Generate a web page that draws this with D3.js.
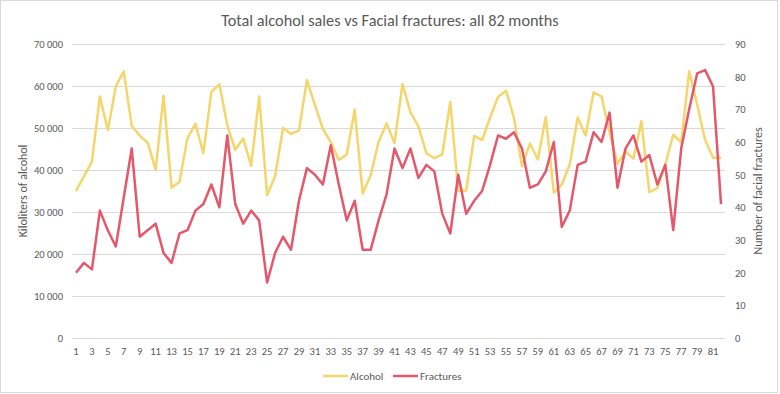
<!DOCTYPE html>
<html>
<head>
<meta charset="utf-8">
<script src="https://cdn.jsdelivr.net/npm/d3@7"></script>
<style>
  body { margin: 0; background: #fff; }
  svg text { font-family: Calibri, Carlito, Lato, sans-serif; fill: #595959; }
</style>
</head>
<body>
<div id="chart"></div>
<script>
// month index 1..82
var months = d3.range(1, 83);

// kiloliters of alcohol sold
var alcohol = [
  35000, 38500, 42000, 57500, 49500, 59900, 63500, 50500, 48200, 46500,
  40100, 57700, 35800, 37200, 47600, 51000, 44000, 58600, 60400, 50700,
  44800, 47500, 41000, 57500, 34000, 38500, 50000, 48600, 49400, 61400,
  55500, 49800, 46600, 42400, 43700, 54400, 34400, 38700, 46700, 51100,
  46400, 60500, 53700, 50400, 44000, 42800, 43700, 56200, 35000, 35100,
  48100, 47100, 52500, 57400, 58900, 52400, 40900, 46300, 42500, 52600,
  34600, 36500, 41300, 52500, 48200, 58500, 57500, 49000, 41500, 44400,
  42700, 51600, 34700, 35700, 41300, 48400, 46600, 63500, 55600, 47200,
  42900, 42900
];

// number of facial fractures per month
var fractures = [
  20, 23, 21, 39, 33, 28, 43, 58, 31, 33,
  35, 26, 23, 32, 33, 39, 41, 47, 40, 62,
  41, 35, 39, 36, 17, 26, 31, 27, 42, 52,
  50, 47, 59, 47, 36, 42, 27, 27, 36, 44,
  58, 52, 58, 49, 53, 51, 38, 32, 50, 38,
  42, 45, 53, 62, 61, 63, 58, 46, 47, 51,
  60, 34, 39, 53, 54, 63, 60, 69, 46, 58,
  62, 54, 56, 47, 53, 33, 58, 70, 81, 82,
  77, 41
];

var leftTicks = [0, 10000, 20000, 30000, 40000, 50000, 60000, 70000];
var rightTicks = [0, 10, 20, 30, 40, 50, 60, 70, 80, 90];
var xTickLabels = months.filter(function(d) { return d % 2 == 1; });

var W = 780, H = 394;
var margin = {top: 44, right: 55, bottom: 56, left: 72};
var width = W - margin.left - margin.right;
var height = H - margin.top - margin.bottom;

var svg = d3.select("#chart").append("svg")
    .attr("width", W)
    .attr("height", H);

// chart area border
svg.append("rect")
    .attr("x", 0.5).attr("y", 0.5)
    .attr("width", W - 3).attr("height", H - 2)
    .attr("fill", "#fff")
    .attr("stroke", "#d9d9d9");

var g = svg.append("g")
    .attr("transform", "translate(" + margin.left + "," + margin.top + ")");

var x = d3.scaleBand()
    .domain(months)
    .range([0, width]);

var yL = d3.scaleLinear()
    .domain([0, 70000])
    .range([height, 0]);

var yR = d3.scaleLinear()
    .domain([0, 90])
    .range([height, 0]);

var fmt = d3.formatLocale({decimal: ".", thousands: " ", grouping: [3], currency: ["", ""]}).format(",");

// gridlines
g.append("g")
    .selectAll("line")
    .data(leftTicks)
    .enter().append("line")
    .attr("x1", 0)
    .attr("x2", width)
    .attr("y1", function(d) { return Math.round(yL(d)) + 0.5; })
    .attr("y2", function(d) { return Math.round(yL(d)) + 0.5; })
    .attr("stroke", "#d9d9d9")
    .attr("stroke-width", 1);

// left axis
var yAxisL = d3.axisLeft(yL)
    .tickValues(leftTicks)
    .tickSize(0)
    .tickPadding(9)
    .tickFormat(fmt);

g.append("g")
    .attr("class", "y-axis")
    .call(yAxisL)
    .call(function(a) { a.select(".domain").remove(); })
    .selectAll("text")
    .style("font-size", "10.5px")
    .style("fill", "#595959");

// right axis
var yAxisR = d3.axisRight(yR)
    .tickValues(rightTicks)
    .tickSize(0)
    .tickPadding(10);

g.append("g")
    .attr("class", "y-axis-right")
    .attr("transform", "translate(" + width + ",0)")
    .call(yAxisR)
    .call(function(a) { a.select(".domain").remove(); })
    .selectAll("text")
    .style("font-size", "10.5px")
    .style("fill", "#595959");

// x axis
var xAxis = d3.axisBottom(x)
    .tickValues(xTickLabels)
    .tickSize(0)
    .tickPadding(10);

g.append("g")
    .attr("class", "x-axis")
    .attr("transform", "translate(0," + height + ")")
    .call(xAxis)
    .call(function(a) { a.select(".domain").remove(); })
    .selectAll("text")
    .style("font-size", "10.5px")
    .style("fill", "#595959");

// lines
var cx = function(i) { return x(months[i]) + x.bandwidth() / 2; };

var alcoholLine = d3.line()
    .x(function(d, i) { return cx(i); })
    .y(function(d) { return yL(d); });

var fractureLine = d3.line()
    .x(function(d, i) { return cx(i); })
    .y(function(d) { return yR(d); });

g.append("path")
    .datum(alcohol)
    .attr("fill", "none")
    .attr("stroke", "#f4d66a")
    .attr("stroke-width", 2.5)
    .attr("stroke-linejoin", "round")
    .attr("d", alcoholLine);

g.append("path")
    .datum(fractures)
    .attr("fill", "none")
    .attr("stroke", "#e5586b")
    .attr("stroke-width", 2.5)
    .attr("stroke-linejoin", "round")
    .attr("d", fractureLine);

// title
svg.append("text")
    .attr("x", 390)
    .attr("y", 26)
    .style("text-anchor", "middle")
    .style("font-size", "16.3px")
    .text("Total alcohol sales vs Facial fractures: all 82 months");

// axis titles
svg.append("text")
    .attr("transform", "translate(27," + (margin.top + height / 2) + ") rotate(-90)")
    .style("text-anchor", "middle")
    .style("font-size", "12px")
    .text("Kiloliters of alcohol");

svg.append("text")
    .attr("transform", "translate(762," + (margin.top + height / 2) + ") rotate(-90)")
    .style("text-anchor", "middle")
    .style("font-size", "12px")
    .text("Number of facial fractures");

// legend
var legend = [
  {name: "Alcohol", color: "#f4d66a", x: 323},
  {name: "Fractures", color: "#e5586b", x: 393}
];

var lg = svg.append("g").selectAll("g")
    .data(legend)
    .enter().append("g")
    .attr("transform", function(d) { return "translate(" + d.x + ",376)"; });

lg.append("line")
    .attr("x1", 0).attr("x2", 25)
    .attr("y1", 0).attr("y2", 0)
    .attr("stroke", function(d) { return d.color; })
    .attr("stroke-width", 2.5);

lg.append("text")
    .attr("x", 27)
    .attr("y", 4)
    .style("font-size", "11px")
    .text(function(d) { return d.name; });
</script>
</body>
</html>
